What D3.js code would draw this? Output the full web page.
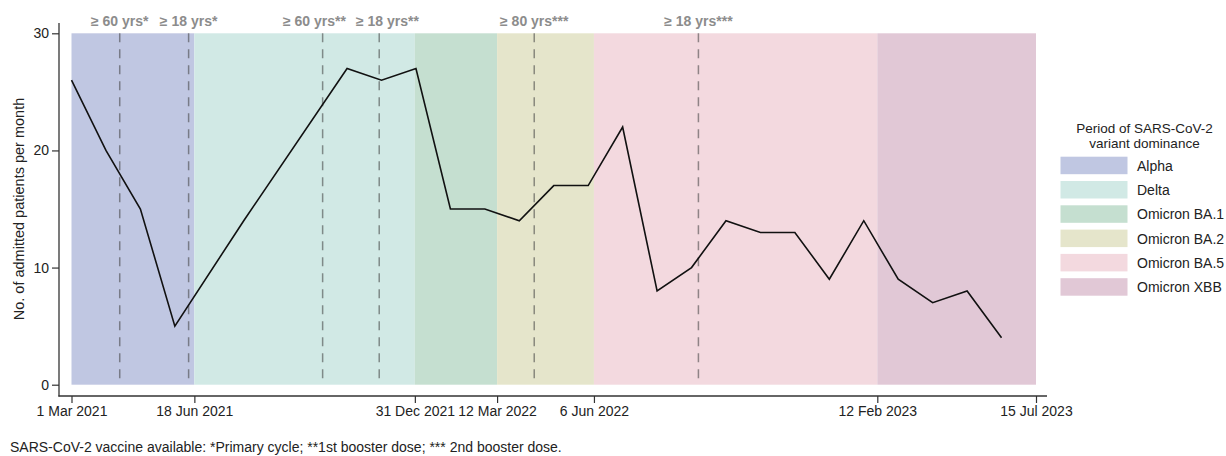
<!DOCTYPE html>
<html>
<head>
<meta charset="utf-8">
<script src="https://cdn.jsdelivr.net/npm/d3@7"></script>
<style>
  body { margin: 0; background: #fff; }
  svg { display: block; font-family: "Liberation Sans", Arial, Helvetica, sans-serif; }
</style>
</head>
<body>
<svg id="chart" width="1226" height="456"></svg>
<script>
// Monthly admissions, March 2021 to June 2023 (null = month not reported)
const months = [
  "2021-03","2021-04","2021-05","2021-06","2021-07","2021-08","2021-09","2021-10","2021-11","2021-12",
  "2022-01","2022-02","2022-03","2022-04","2022-05","2022-06","2022-07","2022-08","2022-09","2022-10","2022-11","2022-12",
  "2023-01","2023-02","2023-03","2023-04","2023-05","2023-06"
];
const admissions = [
  26, 20, 15, 5, null, 14, null, null, 27, 26,
  27, 15, 15, 14, 17, 17, 22, 8, 10, 14, 13, 13,
  9, 14, 9, 7, 8, 4
];

// Periods of variant dominance
const variantNames  = ["Alpha", "Delta", "Omicron BA.1", "Omicron BA.2", "Omicron BA.5", "Omicron XBB"];
const variantStarts = ["2021-03-01", "2021-06-18", "2021-12-31", "2022-03-12", "2022-06-06", "2023-02-12"];
const variantColors = ["#c0c7e2", "#d1e9e5", "#c5dfd0", "#e5e5cb", "#f3d9df", "#e1c8d6"];
const periodEnd = "2023-07-01";

// Vaccine availability milestones
const vaccineDates  = ["2021-04-13", "2021-06-13", "2021-10-10", "2021-11-29", "2022-04-14", "2022-09-07"];
const vaccineLabels = ["≥ 60 yrs*", "≥ 18 yrs*", "≥ 60 yrs**", "≥ 18 yrs**", "≥ 80 yrs***", "≥ 18 yrs***"];

// Axis ticks
const xTickDates  = ["2021-03-01", "2021-06-18", "2021-12-31", "2022-03-12", "2022-06-06", "2023-02-12", "2023-07-01"];
const xTickLabels = ["1 Mar 2021", "18 Jun 2021", "31 Dec 2021", "12 Mar 2022", "6 Jun 2022", "12 Feb 2023", "15 Jul 2023"];
const yTicks = [0, 10, 20, 30];

// Position in months since March 2021 (fraction of month from the day)
function monthPos(s) {
  const [yy, mm, dd] = s.split("-").map(Number);
  const days = new Date(yy, mm, 0).getDate();
  return (yy - 2021) * 12 + (mm - 3) + ((dd || 1) - 1) / days;
}

const svg = d3.select("#chart");
const x = d3.scaleLinear().domain([0, monthPos(periodEnd)]).range([71.5, 1036]);
const y = d3.scaleLinear().domain([0, 30]).range([384.7, 33.3]);

// Variant bands
const bandEdges = variantStarts.map(monthPos).concat([monthPos(periodEnd)]);
svg.append("g").selectAll("rect")
  .data(variantNames)
  .join("rect")
  .attr("x", (d, i) => x(bandEdges[i]))
  .attr("width", (d, i) => x(bandEdges[i + 1]) - x(bandEdges[i]))
  .attr("y", y(30))
  .attr("height", y(0) - y(30))
  .attr("fill", (d, i) => variantColors[i]);

// Vaccine milestone lines
const vac = svg.append("g");
vac.selectAll("line")
  .data(vaccineDates)
  .join("line")
  .attr("x1", d => x(monthPos(d))).attr("x2", d => x(monthPos(d)))
  .attr("y1", y(30)).attr("y2", y(0))
  .attr("stroke", "rgba(60,60,60,0.55)")
  .attr("stroke-width", 1.5)
  .attr("stroke-dasharray", "9,7");

// Milestone labels, pushed apart where neighbours would collide
const vacText = vac.selectAll("text")
  .data(vaccineDates)
  .join("text")
  .attr("x", d => x(monthPos(d)))
  .attr("y", 26)
  .attr("text-anchor", "middle")
  .attr("font-size", 14)
  .attr("font-weight", "bold")
  .attr("fill", "#8c8c8c")
  .text((d, i) => vaccineLabels[i]);
{
  const nodes = vacText.nodes();
  const cx = vaccineDates.map(d => x(monthPos(d)));
  const w = nodes.map(n => n.getComputedTextLength());
  const gap = 10;
  for (let pass = 0; pass < 20; pass++) {
    for (let i = 1; i < cx.length; i++) {
      const need = (w[i - 1] + w[i]) / 2 + gap - (cx[i] - cx[i - 1]);
      if (need > 0) { cx[i - 1] -= need / 2; cx[i] += need / 2; }
    }
  }
  nodes.forEach((n, i) => d3.select(n).attr("x", cx[i]));
}

// Admissions line (missing months are bridged)
const pts = months.map((m, i) => ({ pos: monthPos(m + "-01"), v: admissions[i] }))
  .filter(d => d.v !== null);
svg.append("path")
  .datum(pts)
  .attr("fill", "none")
  .attr("stroke", "#111")
  .attr("stroke-width", 1.6)
  .attr("stroke-linejoin", "miter")
  .attr("d", d3.line().x(d => x(d.pos)).y(d => y(d.v)));

// Axes
const axisColor = "#333";
const yAxis = svg.append("g")
  .attr("transform", "translate(59,0)")
  .call(d3.axisLeft(y).tickValues(yTicks).tickSize(7).tickPadding(3).tickSizeOuter(0));
yAxis.select(".domain").remove();
yAxis.selectAll("line").attr("stroke", axisColor).attr("stroke-width", 1.2);
yAxis.selectAll("text").attr("font-size", 14).attr("fill", "#222").attr("font-family", null);
svg.append("line").attr("x1", 59).attr("x2", 59).attr("y1", 23).attr("y2", 396.6)
  .attr("stroke", axisColor).attr("stroke-width", 1.3);

const xAxis = svg.append("g")
  .attr("transform", "translate(0,396)")
  .call(d3.axisBottom(x)
    .tickValues(xTickDates.map(monthPos).slice(0, -1).concat([monthPos(periodEnd)]))
    .tickFormat((d, i) => xTickLabels[i])
    .tickSize(7).tickPadding(3).tickSizeOuter(0));
xAxis.select(".domain").remove();
xAxis.selectAll("line").attr("stroke", axisColor).attr("stroke-width", 1.2);
xAxis.selectAll("text").attr("font-size", 14).attr("fill", "#222").attr("font-family", null);
svg.append("line").attr("x1", 58.4).attr("x2", 1047).attr("y1", 396).attr("y2", 396)
  .attr("stroke", axisColor).attr("stroke-width", 1.3);

// Y axis title
svg.append("text")
  .attr("transform", `translate(24,${(y(0) + y(30)) / 2}) rotate(-90)`)
  .attr("text-anchor", "middle")
  .attr("font-size", 14.5)
  .attr("fill", "#222")
  .text("No. of admitted patients per month");

// Legend
const lg = svg.append("g");
lg.append("text").attr("x", 1144.5).attr("y", 133).attr("text-anchor", "middle")
  .attr("font-size", 13.5).attr("fill", "#222").text("Period of SARS-CoV-2");
lg.append("text").attr("x", 1144.5).attr("y", 148).attr("text-anchor", "middle")
  .attr("font-size", 13.5).attr("fill", "#222").text("variant dominance");
const items = lg.selectAll("g.item")
  .data(variantNames)
  .join("g")
  .attr("class", "item")
  .attr("transform", (d, i) => `translate(1060.5,${156.7 + i * 24.3})`);
items.append("rect")
  .attr("width", 67).attr("height", 17.5)
  .attr("fill", (d, i) => variantColors[i]);
items.append("text")
  .attr("x", 76.5).attr("y", 14)
  .attr("font-size", 14).attr("fill", "#222")
  .text(d => d);

// Footnote
svg.append("text")
  .attr("x", 10).attr("y", 452)
  .attr("font-size", 14).attr("fill", "#222")
  .text("SARS-CoV-2 vaccine available: *Primary cycle; **1st booster dose; *** 2nd booster dose.");
</script>
</body>
</html>
